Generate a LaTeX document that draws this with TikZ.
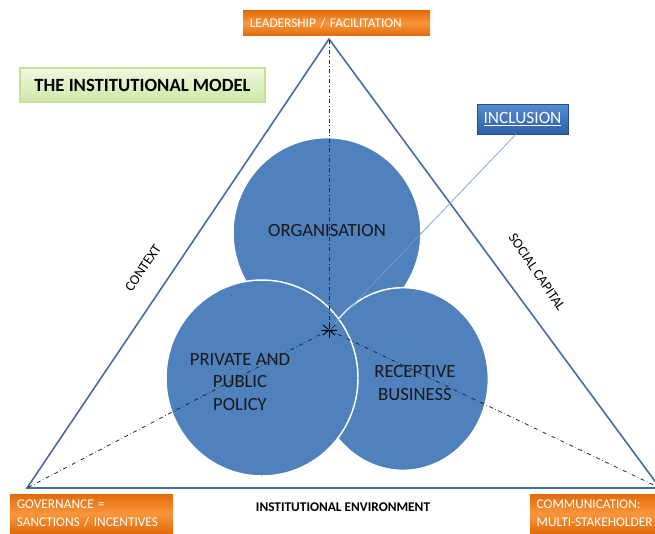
\documentclass[tikz,border=0pt]{standalone}
\usepackage{fontspec}
\setmainfont{Carlito}
\usetikzlibrary{shapes.geometric}

\definecolor{bubblefill}{RGB}{79,129,189}
\definecolor{sideline}{RGB}{68,108,165}
\definecolor{orangedark}{RGB}{226,107,10}
\definecolor{orangemid}{RGB}{248,150,60}
\definecolor{greentop}{RGB}{240,248,226}
\definecolor{greenbot}{RGB}{205,232,165}
\definecolor{greenline}{RGB}{195,225,150}
\definecolor{bluetop}{RGB}{85,140,210}
\definecolor{bluebot}{RGB}{45,95,165}
\definecolor{linkline}{RGB}{110,160,215}

\tikzset{
  bubble/.style={ellipse, draw=white, line width=1.1pt, fill=bubblefill, inner sep=0pt},
  bubbletext/.style={align=center, font=\fontsize{14}{17}\selectfont, text=black!90},
  cornerbox/.style={rectangle, top color=orangedark, bottom color=orangedark, middle color=orangemid,
    text=white, align=left, inner xsep=5pt, inner ysep=2pt, font=\fontsize{10}{13.5}\selectfont},
  sidetext/.style={font=\fontsize{10.5}{12}\selectfont, text=black},
  hubline/.style={dash dot, line width=0.6pt, black!85},
}

\begin{document}
\begin{tikzpicture}[x=0.75pt, y=-0.75pt]
  \useasboundingbox (0,0) rectangle (655,533);

  % triangle corners and the centre point
  \coordinate (apex) at (329,39);
  \coordinate (bl) at (27,488);
  \coordinate (br) at (660,488);
  \coordinate (hub) at (329,330);

  \draw[sideline, line width=1.2pt, line join=miter] (bl) -- (apex) -- (br) -- cycle;

  % the three circles
  \node[bubble, minimum width=141pt, minimum height=143pt] (organisation) at (327,233) {};
  \node[bubble, minimum width=128pt, minimum height=137pt] (business) at (403,379) {};
  \node[bubble, minimum width=144pt, minimum height=147pt] (policy) at (262,378) {};

  \node[bubbletext] at (327,230) {ORGANISATION};
  \node[bubbletext] at (240,382) {PRIVATE AND\\PUBLIC\\POLICY};
  \node[bubbletext] at (415,383) {RECEPTIVE\\BUSINESS};

  % dash-dot spokes from the centre
  \draw[hubline] (hub) -- (apex);
  \draw[hubline] (hub) -- (bl);
  \draw[hubline] (hub) -- (br);
  \foreach \a in {0,40,90,140}
    \draw[black, line width=0.6pt] (hub) ++(\a:8) -- ++(\a+180:16);

  % boxes
  \node[cornerbox, minimum width=140.25pt, minimum height=18.75pt, text width=130pt] (lead) at (336.5,23) {LEADERSHIP / FACILITATION};
  \node[cornerbox, minimum width=122.25pt, minimum height=29.25pt, text width=112pt] (gov) at (91.5,513.5) {GOVERNANCE =\\SANCTIONS / INCENTIVES};
  \node[cornerbox, minimum width=99pt, minimum height=29.25pt, text width=89pt] (comm) at (596,513.5) {COMMUNICATION:\\MULTI-STAKEHOLDER};

  \node[draw=greenline, line width=0.8pt, top color=greentop, bottom color=greenbot,
    minimum width=183.75pt, minimum height=25.5pt, font=\fontsize{14}{17}\selectfont\bfseries] (title) at (142.5,85) {THE INSTITUTIONAL MODEL};

  \node[draw=bluebot!80!black, line width=0.5pt, top color=bluetop, bottom color=bluebot, text=white,
    minimum width=68.25pt, minimum height=22.5pt, font=\fontsize{13}{15}\selectfont] (inclusion) at (522.5,119) {\underline{INCLUSION}};
  \draw[linkline, line width=0.5pt] (hub) -- ([xshift=-5pt]inclusion.south);

  % labels along the sides
  \node[sidetext, rotate=56] (context) at (143,268) {CONTEXT};
  \node[sidetext, rotate=-56] (social) at (537,272) {SOCIAL CAPITAL};
  \node[sidetext, font=\fontsize{10}{12}\selectfont\bfseries] (environment) at (343,507) {INSTITUTIONAL ENVIRONMENT};
\end{tikzpicture}
\end{document}
